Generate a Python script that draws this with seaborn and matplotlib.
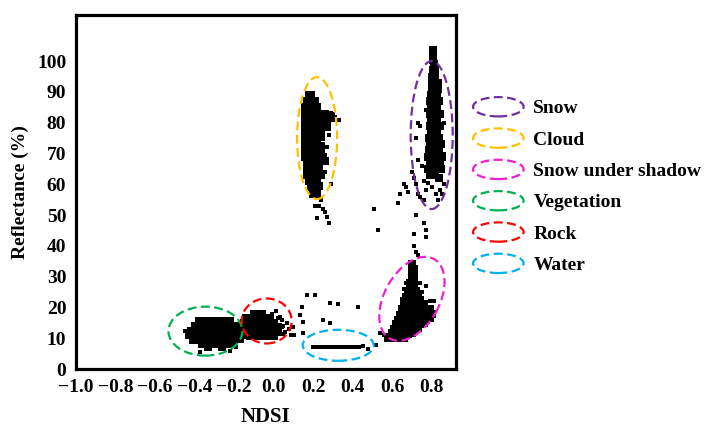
import matplotlib
matplotlib.use("Agg")
import matplotlib.pyplot as plt
import matplotlib.patches as mpatches
from matplotlib.transforms import ScaledTranslation
from matplotlib.legend_handler import HandlerPatch
import seaborn as sns
import pandas as pd

# ---------------- data (NDSI, Reflectance %) ----------------
cloud_core = [
    (0.18, 89), (0.19, 89),
    (0.17, 87), (0.19, 87), (0.21, 87),
    (0.16, 85), (0.18, 85), (0.20, 85), (0.22, 85),
    (0.16, 83), (0.18, 83), (0.20, 83), (0.22, 83), (0.24, 83), (0.26, 83), (0.28, 82.5),
    (0.16, 81), (0.18, 81), (0.20, 81), (0.22, 81), (0.24, 81), (0.27, 81), (0.29, 81.5),
    (0.16, 79), (0.18, 79), (0.20, 79), (0.22, 79), (0.25, 79), (0.27, 78.5),
    (0.16, 77), (0.18, 77), (0.20, 77), (0.22, 77), (0.24, 77),
    (0.16, 75), (0.18, 75), (0.20, 75), (0.22, 75), (0.24, 75.5),
    (0.16, 73), (0.18, 73), (0.20, 73), (0.22, 73),
    (0.16, 71), (0.18, 71), (0.20, 71), (0.22, 71), (0.24, 71),
    (0.16, 69), (0.18, 69), (0.20, 69), (0.22, 69), (0.25, 69),
    (0.17, 67), (0.19, 67), (0.21, 67), (0.23, 67), (0.26, 67.5),
    (0.17, 65), (0.19, 65), (0.21, 65), (0.23, 65),
    (0.17, 63), (0.19, 63), (0.21, 63), (0.24, 63),
    (0.18, 61), (0.20, 61), (0.22, 61),
    (0.19, 59), (0.21, 59), (0.23, 59.5),
    (0.20, 57), (0.22, 57),
]
cloud_sparse = [
    (0.30, 83), (0.31, 82), (0.33, 81), (0.28, 76), (0.27, 72), (0.29, 60),
    (0.21, 53), (0.23, 53), (0.25, 52), (0.26, 51), (0.22, 49), (0.27, 49.5),
    (0.28, 47.5), (0.24, 55), (0.26, 64), (0.25, 73),
]
snow_core = [
    (0.805, 103.5), (0.805, 102), (0.805, 100.5),
    (0.81, 99), (0.815, 97), (0.805, 97), (0.80, 95), (0.815, 95),
    (0.80, 93), (0.815, 93), (0.83, 93), (0.80, 91), (0.815, 91), (0.83, 91),
    (0.795, 89), (0.81, 89), (0.825, 89), (0.79, 87), (0.805, 87), (0.82, 87), (0.835, 87),
    (0.795, 85), (0.81, 85), (0.825, 85), (0.79, 83), (0.805, 83), (0.82, 83), (0.84, 83),
    (0.795, 81), (0.81, 81), (0.825, 81), (0.79, 79), (0.805, 79), (0.82, 79), (0.84, 79),
    (0.795, 77), (0.81, 77), (0.825, 77), (0.785, 75), (0.80, 75), (0.815, 75), (0.835, 75),
    (0.79, 73), (0.805, 73), (0.82, 73), (0.845, 73), (0.785, 71), (0.80, 71), (0.815, 71), (0.835, 71),
    (0.78, 69), (0.795, 69), (0.81, 69), (0.83, 69), (0.85, 69),
    (0.79, 67), (0.805, 67), (0.82, 67), (0.84, 67), (0.78, 65), (0.80, 65), (0.82, 65), (0.845, 65),
    (0.79, 63), (0.815, 63), (0.835, 62),
]
snow_sparse = [
    (0.73, 80), (0.74, 79), (0.72, 75), (0.70, 64), (0.71, 62), (0.72, 60),
    (0.73, 57), (0.74, 56), (0.76, 55), (0.75, 66), (0.73, 68), (0.84, 58),
    (0.85, 57), (0.83, 55), (0.77, 58), (0.86, 60), (0.76, 61), (0.80, 59),
    (0.82, 57), (0.78, 60.5), (0.86, 70), (0.77, 84), (0.86, 80),
]
shadow_core = [
    (0.60, 10), (0.62, 10), (0.64, 10), (0.66, 10),
    (0.60, 11.5), (0.62, 11.5), (0.64, 11.5), (0.66, 11.5), (0.68, 11.5), (0.70, 11.8),
    (0.61, 13), (0.63, 13), (0.65, 13), (0.67, 13), (0.69, 13), (0.71, 13), (0.73, 13.3),
    (0.62, 14.5), (0.64, 14.5), (0.66, 14.5), (0.68, 14.5), (0.70, 14.5), (0.72, 14.5),
    (0.74, 14.5), (0.76, 15),
    (0.63, 16), (0.65, 16), (0.67, 16), (0.69, 16), (0.71, 16), (0.73, 16), (0.75, 16),
    (0.77, 16), (0.79, 16.5),
    (0.64, 17.5), (0.66, 17.5), (0.68, 17.5), (0.70, 17.5), (0.72, 17.5), (0.74, 17.5),
    (0.76, 17.5), (0.78, 17.5), (0.80, 18),
    (0.65, 19), (0.67, 19), (0.69, 19), (0.71, 19), (0.73, 19), (0.75, 19), (0.77, 19.5),
    (0.79, 19.5),
    (0.66, 20.5), (0.68, 20.5), (0.70, 20.5), (0.72, 20.5), (0.74, 21), (0.76, 21),
    (0.66, 22), (0.68, 22), (0.70, 22), (0.72, 22), (0.74, 22.5),
    (0.67, 23.5), (0.69, 23.5), (0.71, 23.5), (0.73, 24),
    (0.68, 25), (0.70, 25), (0.72, 25.5),
    (0.69, 26.5), (0.71, 26.5), (0.69, 28), (0.71, 28),
    (0.70, 29.5), (0.71, 30.5), (0.70, 31.5), (0.71, 32.5), (0.70, 34),
]
shadow_sparse = [
    (0.64, 20), (0.63, 18), (0.59, 12.5), (0.58, 11), (0.56, 11), (0.57, 9.5),
    (0.75, 25), (0.77, 27), (0.79, 22), (0.67, 28), (0.72, 38), (0.71, 40),
    (0.73, 37), (0.71, 44), (0.77, 43), (0.77, 45), (0.76, 47.5), (0.72, 50),
    (0.66, 60), (0.67, 59), (0.64, 57), (0.68, 57.5), (0.63, 54), (0.51, 52), (0.53, 45),
    (0.81, 22), (0.74, 28), (0.66, 26),
]
veg_core = [
    (-0.38, 15.5), (-0.34, 15.5), (-0.30, 15.5), (-0.26, 15.5), (-0.22, 15.5),
    (-0.40, 14), (-0.37, 14), (-0.34, 14), (-0.31, 14), (-0.28, 14),
    (-0.25, 14), (-0.22, 14), (-0.19, 14),
    (-0.42, 12.5), (-0.39, 12.5), (-0.36, 12.5), (-0.33, 12.5), (-0.30, 12.5), (-0.27, 12.5),
    (-0.24, 12.5), (-0.21, 12.5), (-0.18, 12.5), (-0.16, 12.5),
    (-0.43, 11), (-0.40, 11), (-0.37, 11), (-0.34, 11), (-0.31, 11),
    (-0.28, 11), (-0.25, 11), (-0.22, 11), (-0.19, 11), (-0.16, 11),
    (-0.41, 9.5), (-0.38, 9.5), (-0.35, 9.5), (-0.32, 9.5), (-0.29, 9.5), (-0.26, 9.5),
    (-0.23, 9.5), (-0.20, 9.5), (-0.17, 9.8),
    (-0.36, 8), (-0.33, 8), (-0.30, 8), (-0.27, 8), (-0.24, 8), (-0.21, 8),
    (-0.33, 7), (-0.26, 7),
]
veg_sparse = [(-0.37, 5.5), (-0.22, 6), (-0.19, 7), (-0.44, 11), (-0.45, 12.5)]
rock_core = [
    (-0.10, 18), (-0.06, 18),
    (-0.14, 16.5), (-0.11, 16.5), (-0.08, 16.5), (-0.05, 16.5), (-0.02, 16.5),
    (-0.15, 15), (-0.12, 15), (-0.09, 15), (-0.06, 15), (-0.03, 15), (0.00, 15),
    (-0.15, 13.5), (-0.12, 13.5), (-0.09, 13.5), (-0.06, 13.5), (-0.03, 13.5),
    (0.00, 13.5), (0.02, 13.5),
    (-0.15, 12), (-0.12, 12), (-0.09, 12), (-0.06, 12), (-0.03, 12), (0.00, 12), (0.02, 12),
    (-0.12, 10.8), (-0.09, 10.8), (-0.06, 10.8), (-0.03, 10.8), (0.00, 10.8),
]
rock_sparse = [
    (0.03, 17), (0.04, 16), (0.05, 14), (0.04, 13.5), (0.06, 12), (0.07, 15),
    (-0.01, 18), (0.01, 19), (0.08, 13), (0.09, 11), (0.02, 16.5), (0.05, 11.5),
]
water_core = [
    (0.20, 7.3), (0.21, 7.3), (0.22, 7.3), (0.23, 7.3), (0.24, 7.3), (0.25, 7.3),
    (0.26, 7.3), (0.27, 7.3), (0.28, 7.3), (0.29, 7.3), (0.30, 7.3), (0.31, 7.3),
    (0.32, 7.3), (0.33, 7.3), (0.34, 7.3), (0.35, 7.3), (0.36, 7.3), (0.37, 7.3),
    (0.38, 7.3), (0.39, 7.3), (0.40, 7.3), (0.41, 7.3), (0.42, 7.3), (0.43, 7.3),
]
water_sparse = [(0.45, 7.5), (0.48, 6.5)]
misc_sparse = [
    (0.167, 24), (0.21, 24), (0.142, 20.2), (0.285, 21.4), (0.326, 21), (0.427, 20.2),
    (0.134, 17.5), (0.15, 15.4), (0.285, 14.9), (0.25, 16), (0.10, 13.7), (0.105, 11),
    (0.147, 11.7), (0.52, 7.8), (0.54, 11.7), (0.57, 10),
]

legend_labels = ["Snow", "Cloud", "Snow under shadow", "Vegetation", "Rock", "Water"]
legend_colors = ["#7030A0", "#FFC000", "#F01ED2", "#00B050", "#FF0000", "#00B0F0"]

# ellipse annotations: centre in data units, size in pixels, angle in degrees
ellipse_centers = [(0.80, 76), (0.22, 75), (0.70, 22.8), (-0.345, 12.3), (-0.035, 15.6), (0.327, 7.7)]
ellipse_sizes = [(42, 148), (40, 122), (91, 55), (74, 49), (50, 45), (71, 31)]
ellipse_angles = [0, 0, 61, 0, 0, 0]

x_ticks = [-1.0, -0.8, -0.6, -0.4, -0.2, 0.0, 0.2, 0.4, 0.6, 0.8]
y_ticks = [0, 10, 20, 30, 40, 50, 60, 70, 80, 90, 100]

# ---------------- build frames ----------------
core = cloud_core + snow_core + shadow_core + veg_core + rock_core
sparse = cloud_sparse + snow_sparse + shadow_sparse + veg_sparse + rock_sparse + water_sparse + misc_sparse
df_core = pd.DataFrame(core, columns=["NDSI", "Reflectance"])
df_water = pd.DataFrame(water_core, columns=["NDSI", "Reflectance"])
df_sparse = pd.DataFrame(sparse, columns=["NDSI", "Reflectance"])

sns.set_style("white")
plt.rcParams["font.family"] = ["Liberation Serif", "DejaVu Serif"]
plt.rcParams["font.weight"] = "bold"
plt.rcParams["axes.labelweight"] = "bold"
for key in ["text.color", "axes.labelcolor", "xtick.color", "ytick.color", "axes.edgecolor"]:
    plt.rcParams[key] = "black"

fig = plt.figure(figsize=(7.05, 4.26), dpi=100)
ax = fig.add_axes([0.1078, 0.1338, 0.539, 0.831])

sns.scatterplot(data=df_core, x="NDSI", y="Reflectance", ax=ax, color="black",
                marker="s", s=28, linewidth=0, legend=False)
sns.scatterplot(data=df_water, x="NDSI", y="Reflectance", ax=ax, color="black",
                marker="s", s=9, linewidth=0, legend=False)
sns.scatterplot(data=df_sparse, x="NDSI", y="Reflectance", ax=ax, color="black",
                marker="s", s=6, linewidth=0, legend=False)

dash = (0, (4, 2))
for (cx, cy), (w, h), a, col in zip(ellipse_centers, ellipse_sizes, ellipse_angles, legend_colors):
    tr = fig.dpi_scale_trans + ScaledTranslation(cx, cy, ax.transData)
    e = mpatches.Ellipse((0, 0), w / 100, h / 100, angle=a, transform=tr,
                         fill=False, edgecolor=col, lw=1.6, linestyle=dash, zorder=5)
    ax.add_patch(e)

ax.set_xlim(-1.0, 0.923)
ax.set_ylim(0, 115)
ax.set_xticks(x_ticks)
ax.set_xticklabels([f"{v:.1f}".replace("-", "\u2212") for v in x_ticks])
ax.set_yticks(y_ticks)
ax.tick_params(axis="both", direction="out", length=5, width=2, pad=2, colors="black")
for lab in ax.get_xticklabels() + ax.get_yticklabels():
    lab.set_fontweight("bold")
    lab.set_fontsize(14)
for sp in ax.spines.values():
    sp.set_visible(True)
    sp.set_linewidth(2.3)
    sp.set_color("black")
ax.set_xlabel("NDSI", fontsize=15, fontweight="bold", labelpad=8, color="black")
ax.set_ylabel("Reflectance (%)", fontsize=14, fontweight="bold", labelpad=6, color="black")


def make_ellipse(legend, orig_handle, xdescent, ydescent, width, height, fontsize):
    return mpatches.Ellipse(xy=(width / 2 - xdescent, height / 2 - ydescent),
                            width=width, height=height)


handles = [mpatches.Ellipse((0, 0), 1, 1, fill=False, edgecolor=c, lw=1.6, linestyle=dash)
           for c in legend_colors]
leg = fig.legend(handles, legend_labels, loc="upper left", bbox_to_anchor=(0.671, 0.772),
                 frameon=False, borderpad=0, borderaxespad=0,
                 handlelength=2.6, handleheight=1.15, handletextpad=0.5, labelspacing=0.57,
                 prop={"family": ["Liberation Serif"], "weight": "bold", "size": 14},
                 labelcolor="black",
                 handler_map={mpatches.Ellipse: HandlerPatch(patch_func=make_ellipse)})

fig.savefig("out.png", dpi=100)
